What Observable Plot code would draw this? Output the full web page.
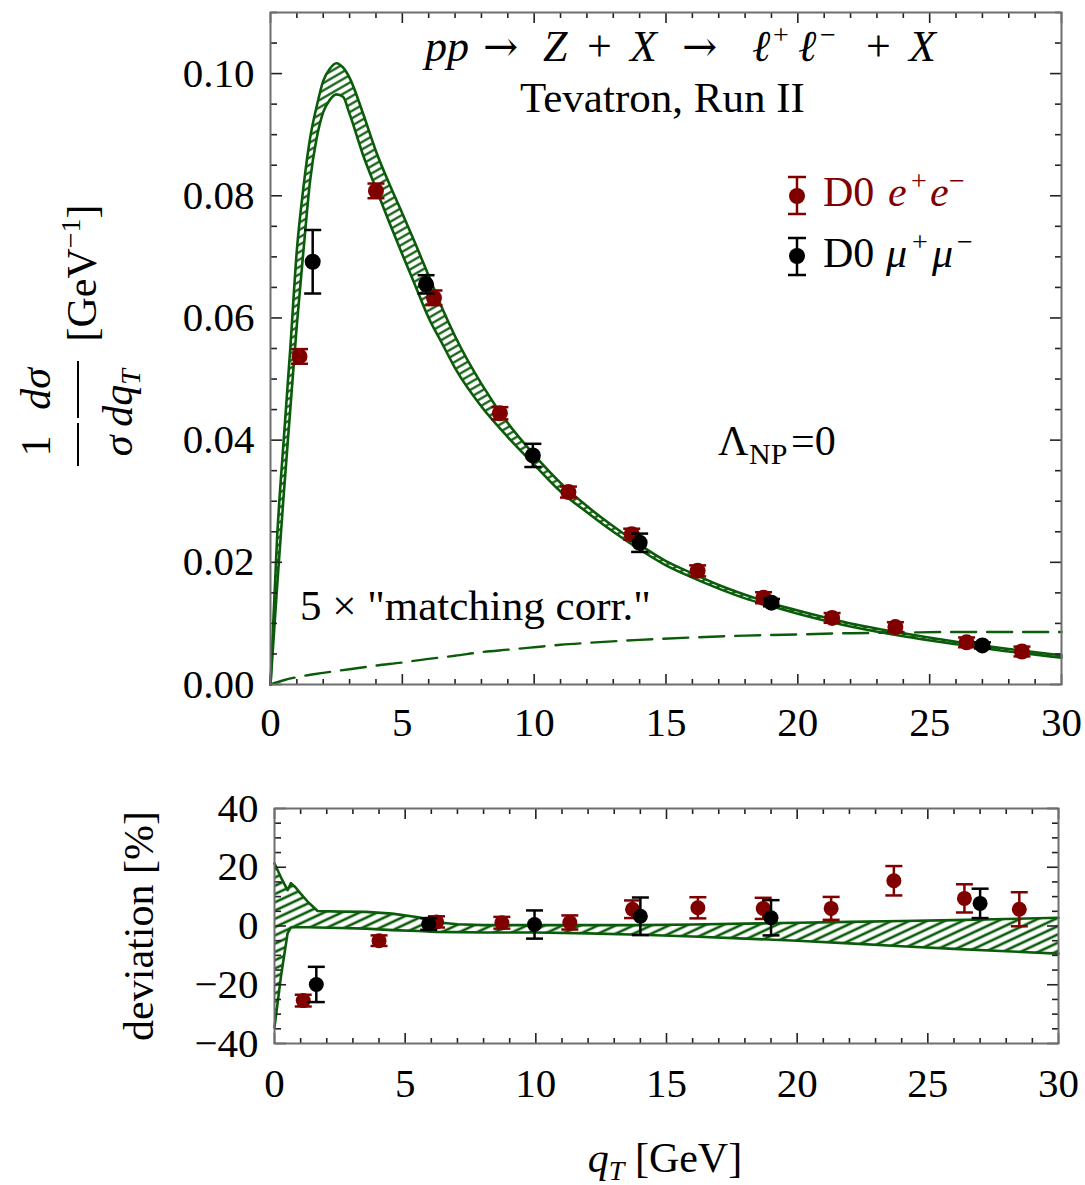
<!DOCTYPE html>
<html><head><meta charset="utf-8">
<script src="https://cdn.jsdelivr.net/npm/d3@7"></script>
<script src="https://cdn.jsdelivr.net/npm/@observablehq/plot@0.6"></script>
<style>
body{margin:0;background:#fff;}
#chart{position:relative;width:1085px;height:1185px;font-family:'Liberation Serif',serif;overflow:hidden;}
#top,#bot,#ov{position:absolute;left:0;}
#top{top:0}
#bot{top:745px}
#ov{top:0;pointer-events:none}
</style></head><body>
<div id="chart">
<svg width="0" height="0" style="position:absolute">
<defs>
<pattern id="hatchTop" patternUnits="userSpaceOnUse" width="6" height="6.4" patternTransform="rotate(-30)">
<rect width="6" height="6.4" fill="#fff"/><line x1="-1" y1="3.2" x2="7" y2="3.2" stroke="#0a5c0a" stroke-width="2.2"/>
</pattern>
<pattern id="hatchBot" patternUnits="userSpaceOnUse" width="8" height="7.5" patternTransform="rotate(-25)">
<rect width="8" height="7.5" fill="#fff"/><line x1="-1" y1="3.75" x2="9" y2="3.75" stroke="#0a5c0a" stroke-width="2.6"/>
</pattern>
</defs></svg>
<div id="top"></div>
<div id="bot"></div>
<svg id="ov" width="1085" height="1185" font-family="'Liberation Serif', serif">
  <!-- title -->
  <text y="61" font-size="44">
    <tspan x="425" font-style="italic">pp</tspan>
    <tspan x="483" font-family="'DejaVu Serif', serif" font-size="42">→</tspan>
    <tspan x="543" font-style="italic">Z</tspan>
    <tspan x="587">+</tspan>
    <tspan x="630" font-style="italic">X</tspan>
    <tspan x="682" font-family="'DejaVu Serif', serif" font-size="42">→</tspan>
    <tspan x="752" font-style="italic">ℓ</tspan>
    <tspan x="773" y="44" font-size="28">+</tspan>
    <tspan x="798" y="61" font-style="italic">ℓ</tspan>
    <tspan x="820" y="44" font-size="28">−</tspan>
    <tspan x="866" y="61">+</tspan>
    <tspan x="909" font-style="italic">X</tspan>
  </text>
  <text x="520" y="112" font-size="43">Tevatron, Run II</text>
  <!-- legend -->
  <g stroke-width="2.5">
    <line x1="797" y1="177" x2="797" y2="214" stroke="#800000"/>
    <line x1="788" y1="177" x2="806" y2="177" stroke="#800000"/>
    <line x1="788" y1="214" x2="806" y2="214" stroke="#800000"/>
    <circle cx="797" cy="196" r="8" fill="#800000" stroke="none"/>
    <line x1="797" y1="238" x2="797" y2="275" stroke="#000"/>
    <line x1="788" y1="238" x2="806" y2="238" stroke="#000"/>
    <line x1="788" y1="275" x2="806" y2="275" stroke="#000"/>
    <circle cx="797" cy="256" r="8" fill="#000" stroke="none"/>
  </g>
  <text y="206" font-size="42" fill="#800000">
    <tspan x="823">D0</tspan>
    <tspan x="888" font-style="italic">e</tspan>
    <tspan x="911" y="190" font-size="28">+</tspan>
    <tspan x="930" y="206" font-style="italic">e</tspan>
    <tspan x="949" y="190" font-size="28">−</tspan>
  </text>
  <text y="267" font-size="42" fill="#000">
    <tspan x="823">D0</tspan>
    <tspan x="886" font-style="italic">μ</tspan>
    <tspan x="912" y="251" font-size="28">+</tspan>
    <tspan x="932" y="267" font-style="italic">μ</tspan>
    <tspan x="957" y="251" font-size="28">−</tspan>
  </text>
  <!-- annotations -->
  <text y="455" font-size="42">
    <tspan x="718">Λ</tspan>
    <tspan x="749" y="464" font-size="30">NP</tspan>
    <tspan x="791" y="455">=0</tspan>
  </text>
  <text x="300" y="620" font-size="43">5 × "matching corr."</text>
  <!-- y label top -->
  <g font-size="42">
    <text transform="translate(50,446) rotate(-90)" text-anchor="middle">1</text>
    <line x1="78" y1="423" x2="78" y2="466" stroke="#000" stroke-width="2"/>
    <text transform="translate(132,446) rotate(-90)" text-anchor="middle" font-style="italic">σ</text>
    <text transform="translate(50,389) rotate(-90)" text-anchor="middle" font-style="italic">dσ</text>
    <line x1="78" y1="361" x2="78" y2="418" stroke="#000" stroke-width="2"/>
    <text transform="translate(132,398) rotate(-90)" text-anchor="middle" font-style="italic">dq<tspan font-size="28" dy="8">T</tspan></text>
    <text transform="translate(96,273) rotate(-90)" text-anchor="middle">[GeV<tspan font-size="28" dy="-16">−1</tspan><tspan dy="16">]</tspan></text>
  </g>
  <text transform="translate(153,926) rotate(-90)" text-anchor="middle" font-size="42">deviation [%]</text>
  <text x="665" y="1172" text-anchor="middle" font-size="42"><tspan font-style="italic">q</tspan><tspan font-style="italic" font-size="28" dy="8">T</tspan><tspan dy="-8"> [GeV]</tspan></text>
</svg>
</div>
<script>
// ---------- data ----------
// theory band (top panel): q_T grid, upper and lower edges
const qtBand    = [0, 0.25, 0.5, 0.75, 1.0, 1.25, 1.5, 1.75, 2.0, 2.25, 2.5, 2.75, 3.0, 3.5, 4.0, 4.5, 5.0, 5.5, 6.0, 6.5, 7.0, 8, 9, 10, 11, 12, 13, 14, 15, 16, 17, 18, 19, 20, 22, 24, 26, 28, 30];
const bandUpper = [0, 0.024, 0.040, 0.055, 0.0711, 0.0814, 0.0894, 0.0946, 0.0988, 0.1008, 0.1017, 0.1010, 0.0993, 0.0936, 0.0873, 0.0820, 0.0771, 0.0721, 0.0669, 0.0617, 0.0570, 0.0492, 0.0428, 0.0376, 0.0330, 0.0292, 0.0259, 0.0229, 0.0202, 0.0182, 0.0163, 0.0147, 0.0133, 0.0121, 0.0100, 0.0084, 0.0070, 0.0058, 0.0048];
const bandLower = [0, 0.016, 0.031, 0.045, 0.0589, 0.0710, 0.0824, 0.0894, 0.0937, 0.0957, 0.0966, 0.0962, 0.0934, 0.0868, 0.0812, 0.0757, 0.0704, 0.0652, 0.0600, 0.0559, 0.0518, 0.0455, 0.0405, 0.0360, 0.0316, 0.0282, 0.0250, 0.0221, 0.0195, 0.0175, 0.0157, 0.0141, 0.0128, 0.0116, 0.0095, 0.0079, 0.0066, 0.0054, 0.0044];
// 5 x "matching corr." (dashed)
const qtMatch   = [0, 0.5, 1, 2, 3, 4, 5, 6, 7, 8, 9, 10, 11, 12, 14, 16, 18, 20, 22, 24, 26, 28, 30];
const matchCorr = [0, 0.0007, 0.0012, 0.0019, 0.0025, 0.0031, 0.0036, 0.0042, 0.0047, 0.0053, 0.0057, 0.0061, 0.0065, 0.0068, 0.0073, 0.0077, 0.0080, 0.0082, 0.0084, 0.0085, 0.0086, 0.0086, 0.0086];
// deviation band (bottom panel), %
const qtDev    = [0, 0.25, 0.5, 0.63, 0.8, 1.0, 1.3, 1.65, 2.5, 3.5, 4.5, 5.5, 6.2, 7, 8, 10, 12, 14, 16, 18, 20, 22, 24, 26, 28, 30];
const devUpper = [21.3, 16.5, 12.2, 14.6, 13.2, 11.0, 8.0, 5.1, 4.9, 4.8, 4.2, 3.0, 1.3, 0.6, 0.3, 0.3, 0.3, 0.3, 0.5, 0.8, 1.1, 1.4, 1.7, 2.0, 2.4, 2.8];
const devLower = [-34.5, -17, -2.5, -0.5, -0.4, -0.4, -0.4, -0.5, -0.7, -0.9, -1.4, -1.7, -2.0, -2.1, -2.2, -2.2, -2.5, -3.0, -3.6, -4.3, -5.0, -5.9, -6.9, -7.8, -8.6, -9.4];
// D0 e+e- data
const eeQt     = [1.1, 4.0, 6.2, 8.7, 11.3, 13.7, 16.2, 18.7, 21.3, 23.7, 26.4, 28.5];
const eeVal    = [0.0537, 0.0808, 0.0633, 0.0444, 0.0315, 0.0246, 0.0186, 0.0142, 0.0109, 0.0094, 0.0069, 0.0054];
const eeErr    = [0.0012, 0.0012, 0.0012, 0.0010, 0.0009, 0.0009, 0.0009, 0.0009, 0.0008, 0.0008, 0.0008, 0.0008];
const eeDev    = [-25.4, -5.0, 1.4, 1.1, 1.2, 5.7, 6.2, 6.0, 6.0, 15.4, 9.4, 5.7];
const eeDevErr = [2.0, 1.8, 1.9, 2.0, 2.4, 3.0, 3.6, 3.6, 3.9, 5.0, 4.8, 5.8];
// D0 mu+mu- data
const mmQt     = [1.6, 5.9, 9.95, 14.0, 19.0, 27.0];
const mmVal    = [0.0692, 0.0655, 0.0375, 0.0232, 0.0134, 0.0064];
const mmErr    = [0.0052, 0.0015, 0.0019, 0.0015, 0.0006, 0.0005];
const mmDev    = [-19.9, 0.7, 0.5, 3.3, 2.8, 7.7];
const mmDevErr = [6.0, 2.0, 4.8, 6.4, 6.0, 5.0];
// ticks
const xMajor = [0, 5, 10, 15, 20, 25, 30];
const yMajorTop = [0, 0.02, 0.04, 0.06, 0.08, 0.10];
const yMajorBot = [-40, -20, 0, 20, 40];

// ---------- build ----------
const green = "#0a5c0a", red = "#800000", tickColor = "#222", frameColor = "#6e6e6e";
const xMinor = d3.range(0, 31).filter(d => d % 5 !== 0);
const yMinorTop = d3.range(0, 23).filter(i => i % 4 !== 0).map(i => +(i * 0.005).toFixed(3));
const yMinorBot = d3.range(-40, 41, 5).filter(d => d % 20 !== 0);

const band = qtBand.map((q, i) => ({q, hi: bandUpper[i], lo: bandLower[i]}));
const match = qtMatch.map((q, i) => ({q, v: matchCorr[i]}));
const devBand = qtDev.map((q, i) => ({q, hi: devUpper[i], lo: devLower[i]}));
const ee = eeQt.map((q, i) => ({q, v: eeVal[i], e: eeErr[i], d: eeDev[i], de: eeDevErr[i]}));
const mm = mmQt.map((q, i) => ({q, v: mmVal[i], e: mmErr[i], d: mmDev[i], de: mmDevErr[i]}));

const cap = {draw(c, s) { const r = Math.sqrt(s / Math.PI); c.moveTo(-r, 0); c.lineTo(r, 0); }};

function points(data, yk, ek, color, r) {
  return [
    Plot.ruleX(data, {x: "q", y1: d => d[yk] - d[ek], y2: d => d[yk] + d[ek], stroke: color, strokeWidth: 2.5}),
    Plot.dot(data, {x: "q", y: d => d[yk] - d[ek], symbol: cap, r: 8.5, fill: "none", stroke: color, strokeWidth: 2.5}),
    Plot.dot(data, {x: "q", y: d => d[yk] + d[ek], symbol: cap, r: 8.5, fill: "none", stroke: color, strokeWidth: 2.5}),
    Plot.dot(data, {x: "q", y: yk, r, fill: color, stroke: "none"})
  ];
}

// inward ticks on all four frame edges: outward axis ticks of the opposite edge, shifted across the frame
function ticks(xMaj, xMin, yMaj, yMin, fw, fh) {
  const o = {fill: "none", stroke: tickColor, strokeWidth: 1.6, label: null};
  return [
    Plot.axisX(xMaj, {anchor: "top", tickSize: 11, dy: fh, ...o}),
    Plot.axisX(xMin, {anchor: "top", tickSize: 6, dy: fh, ...o}),
    Plot.axisX(xMaj, {anchor: "bottom", tickSize: 11, dy: -fh, ...o}),
    Plot.axisX(xMin, {anchor: "bottom", tickSize: 6, dy: -fh, ...o}),
    Plot.axisY(yMaj, {anchor: "right", tickSize: 11, dx: -fw, ...o}),
    Plot.axisY(yMin, {anchor: "right", tickSize: 6, dx: -fw, ...o}),
    Plot.axisY(yMaj, {anchor: "left", tickSize: 11, dx: fw, ...o}),
    Plot.axisY(yMin, {anchor: "left", tickSize: 6, dx: fw, ...o})
  ];
}

const styleObj = {fontFamily: "'Liberation Serif', serif", fontSize: "41px", background: "transparent", overflow: "visible", color: "#000"};

const T = {width: 1085, height: 745, marginLeft: 270, marginRight: 24, marginTop: 12, marginBottom: 61};
const topPlot = Plot.plot({
  ...T,
  style: styleObj,
  x: {domain: [0, 30]},
  y: {domain: [0, 0.110]},
  marks: [
    Plot.areaY(band, {x: "q", y1: "lo", y2: "hi", fill: "url(#hatchTop)", curve: "monotone-x"}),
    Plot.line(band, {x: "q", y: "hi", stroke: green, strokeWidth: 2.6, curve: "monotone-x"}),
    Plot.line(band, {x: "q", y: "lo", stroke: green, strokeWidth: 2.6, curve: "monotone-x"}),
    Plot.line(match, {x: "q", y: "v", stroke: green, strokeWidth: 2.4, strokeDasharray: "25,11", curve: "monotone-x"}),
    ...points(ee, "v", "e", red, 8),
    ...points(mm, "v", "e", "#000", 8),
    ...ticks(xMajor, xMinor, yMajorTop, yMinorTop, T.width - T.marginLeft - T.marginRight, T.height - T.marginTop - T.marginBottom),
    Plot.axisX(xMajor, {anchor: "bottom", tickSize: 0, tickPadding: 22, label: null, fontSize: 41, tickFormat: d => String(d)}),
    Plot.axisY(yMajorTop, {anchor: "left", tickSize: 0, tickPadding: 16, label: null, fontSize: 41, tickFormat: d => d.toFixed(2)}),
    Plot.frame({stroke: frameColor, strokeWidth: 2})
  ]
});
document.getElementById("top").appendChild(topPlot);

const B = {width: 1085, height: 355, marginLeft: 274, marginRight: 27, marginTop: 63, marginBottom: 57};
const botPlot = Plot.plot({
  ...B,
  style: styleObj,
  x: {domain: [0, 30]},
  y: {domain: [-40, 40]},
  marks: [
    Plot.areaY(devBand, {x: "q", y1: "lo", y2: "hi", fill: "url(#hatchBot)"}),
    Plot.line(devBand, {x: "q", y: "hi", stroke: green, strokeWidth: 2.6}),
    Plot.line(devBand, {x: "q", y: "lo", stroke: green, strokeWidth: 2.6}),
    ...points(ee, "d", "de", red, 7.5),
    ...points(mm, "d", "de", "#000", 7.5),
    ...ticks(xMajor, xMinor, yMajorBot, yMinorBot, B.width - B.marginLeft - B.marginRight, B.height - B.marginTop - B.marginBottom),
    Plot.axisX(xMajor, {anchor: "bottom", tickSize: 0, tickPadding: 24, label: null, fontSize: 41, tickFormat: d => String(d)}),
    Plot.axisY(yMajorBot, {anchor: "left", tickSize: 0, tickPadding: 16, label: null, fontSize: 41, tickFormat: d => d < 0 ? "\u2212" + (-d) : String(d)}),
    Plot.frame({stroke: frameColor, strokeWidth: 2})
  ]
});
document.getElementById("bot").appendChild(botPlot);
</script>
</body></html>
